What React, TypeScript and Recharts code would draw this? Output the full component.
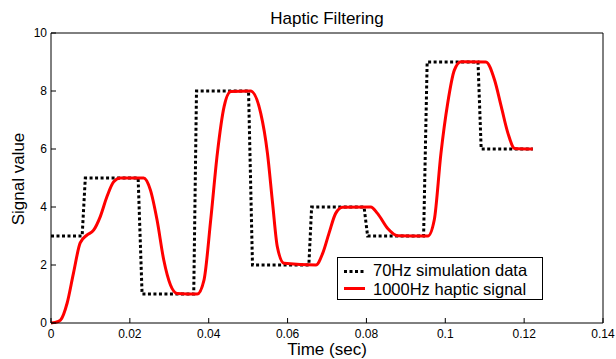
import React from 'react';
import { LineChart, Line, XAxis, YAxis, Legend } from 'recharts';

// 70Hz zero-order-hold samples (time in sec, value)
const stepTime = [0, 0.0079, 0.0087, 0.0221, 0.0231, 0.0362, 0.0369, 0.0501, 0.0511, 0.0654, 0.0661, 0.0794, 0.0803, 0.0945, 0.0954, 0.1083, 0.1091, 0.1222];
const stepValue = [3, 3, 5, 5, 1, 1, 8, 8, 2, 2, 4, 4, 3, 3, 9, 9, 6, 6];

// 1000Hz filtered haptic signal
const hapticTime = [
  0, 0.0011, 0.0024, 0.0041, 0.0057, 0.0074, 0.0091, 0.0108, 0.0125, 0.0142, 0.0159, 0.0176,
  0.0235, 0.0252, 0.0269, 0.0286, 0.0303, 0.032, 0.0371, 0.0388, 0.0405, 0.0422, 0.0439, 0.0456,
  0.0506, 0.0532, 0.0549, 0.0562, 0.0574, 0.0591, 0.0672, 0.0689, 0.0705, 0.0722, 0.074,
  0.0811, 0.0828, 0.0854, 0.0879, 0.0956, 0.0972, 0.0989, 0.1006, 0.1023, 0.104,
  0.1103, 0.1125, 0.1142, 0.1159, 0.1176, 0.1222,
];
const hapticValue = [
  0, 0.02, 0.1, 0.69, 1.72, 2.76, 3.03, 3.2, 3.67, 4.36, 4.87, 5.0,
  5.0, 4.59, 3.55, 2.17, 1.31, 1.02, 1.0, 1.48, 3.55, 5.86, 7.46, 7.98,
  8.0, 7.23, 5.85, 4.13, 2.63, 2.06, 2.0, 2.4, 3.09, 3.78, 3.99,
  4.0, 3.78, 3.26, 3.01, 3.0, 3.55, 5.85, 7.57, 8.72, 9.01,
  9.0, 8.38, 7.46, 6.54, 6.02, 6.0,
];

const xTicks = [0, 0.02, 0.04, 0.06, 0.08, 0.1, 0.12, 0.14];
const yTicks = [0, 2, 4, 6, 8, 10];
const seriesNames = ['70Hz simulation data', '1000Hz haptic signal'];

const stepData = stepTime.map((t, i) => ({ t, v: stepValue[i] }));
const hapticData = hapticTime.map((t, i) => ({ t, v: hapticValue[i] }));

const FONT = '"Liberation Sans", Arial, Helvetica, sans-serif';

const LegendBox = (props: any) => {
  const payload = [...(props.payload || [])].sort(
    (a: any, b: any) => seriesNames.indexOf(a.value) - seriesNames.indexOf(b.value)
  );
  return (
    <svg width={207} height={44} style={{ display: 'block', fontFamily: FONT }}>
      <rect x={0.5} y={0.5} width={205} height={42} fill="#fff" stroke="#000" strokeWidth={1} />
      {payload.map((entry: any, i: number) => {
        const ly = 14.5 + i * 17;
        const ty = 19 + i * 19;
        const dash = entry.payload && entry.payload.strokeDasharray;
        return (
          <g key={entry.value}>
            <line x1={7} x2={28} y1={ly} y2={ly} stroke={entry.color} strokeWidth={3} strokeDasharray={dash} />
            <text x={36} y={ty} fontSize={16.5} fill="#000">
              {entry.value}
            </text>
          </g>
        );
      })}
    </svg>
  );
};

export default function App() {
  return (
    <div style={{ position: 'absolute', left: 0, top: 0, fontFamily: FONT }}>
      <LineChart width={616} height={359} margin={{ top: 32, right: 12, bottom: 0, left: 0 }}>
        <XAxis
          xAxisId="bottom"
          dataKey="t"
          type="number"
          domain={[0, 0.14]}
          ticks={xTicks}
          height={36}
          tickSize={-5}
          tickMargin={11}
          stroke="#000"
          tick={{ fill: '#000', fontSize: 12 }}
          label={() => (
            <text x={327} y={355} textAnchor="middle" fontSize={17} fill="#000">
              Time (sec)
            </text>
          )}
        />
        <XAxis
          xAxisId="top"
          orientation="top"
          type="number"
          domain={[0, 0.14]}
          ticks={xTicks}
          height={1}
          tickSize={-5}
          stroke="#000"
          tick={false}
          label={() => (
            <text x={327} y={24} textAnchor="middle" fontSize={17} fill="#000">
              Haptic Filtering
            </text>
          )}
        />
        <YAxis
          yAxisId="left"
          type="number"
          domain={[0, 10]}
          ticks={yTicks}
          width={51}
          tickSize={-5}
          tickMargin={9}
          stroke="#000"
          tick={{ fill: '#000', fontSize: 12 }}
          label={() => (
            <text transform="translate(24,179) rotate(-90)" textAnchor="middle" fontSize={17} fill="#000">
              Signal value
            </text>
          )}
        />
        <YAxis
          yAxisId="right"
          orientation="right"
          type="number"
          domain={[0, 10]}
          ticks={yTicks}
          width={1}
          tickSize={-5}
          stroke="#000"
          tick={false}
        />
        <Line
          xAxisId="bottom"
          yAxisId="left"
          data={stepData}
          dataKey="v"
          name={seriesNames[0]}
          type="linear"
          stroke="#000"
          strokeWidth={3}
          strokeDasharray="3 2.5"
          dot={false}
          activeDot={false}
          isAnimationActive={false}
        />
        <Line
          xAxisId="bottom"
          yAxisId="left"
          data={hapticData}
          dataKey="v"
          name={seriesNames[1]}
          type="monotone"
          stroke="#ff0000"
          strokeWidth={3}
          dot={false}
          activeDot={false}
          isAnimationActive={false}
        />
        <Legend
          layout="horizontal"
          verticalAlign="middle"
          align="center"
          content={LegendBox}
          wrapperStyle={{ left: 337, top: 257, width: 207, height: 44 }}
        />
      </LineChart>
    </div>
  );
}
